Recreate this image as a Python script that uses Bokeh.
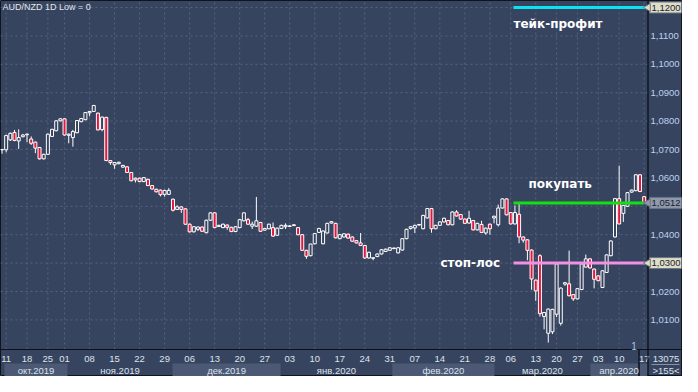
from bokeh.plotting import figure
from bokeh.models import Range1d
from bokeh.core.properties import value
from bokeh.embed import file_html
from bokeh.resources import INLINE

# ---------------- data (AUD/NZD daily candles) ----------------
opens = [1.0699, 1.0699, 1.0734, 1.0760, 1.0730, 1.0745, 1.0752, 1.0737, 1.0726, 1.0707,
         1.0667, 1.0683, 1.0746, 1.0766, 1.0801, 1.0808, 1.0750, 1.0742, 1.0759, 1.0798,
         1.0805, 1.0829, 1.0834, 1.0828, 1.0770, 1.0813, 1.0661, 1.0646, 1.0650, 1.0638,
         1.0639, 1.0619, 1.0593, 1.0599, 1.0587, 1.0595, 1.0573, 1.0560, 1.0557, 1.0542,
         1.0542, 1.0525, 1.0489, 1.0498, 1.0491, 1.0437, 1.0410, 1.0419, 1.0427, 1.0407,
         1.0451, 1.0477, 1.0429, 1.0425, 1.0434, 1.0426, 1.0411, 1.0425, 1.0449, 1.0453,
         1.0430, 1.0430, 1.0443, 1.0416, 1.0421, 1.0425, 1.0398, 1.0422, 1.0428, 1.0429,
         1.0432, 1.0425, 1.0400, 1.0345, 1.0326, 1.0368, 1.0408, 1.0368, 1.0406, 1.0441,
         1.0440, 1.0386, 1.0392, 1.0402, 1.0392, 1.0379, 1.0371, 1.0362, 1.0318, 1.0317,
         1.0323, 1.0332, 1.0341, 1.0345, 1.0351, 1.0336, 1.0346, 1.0386, 1.0422, 1.0424,
         1.0434, 1.0421, 1.0459, 1.0492, 1.0421, 1.0433, 1.0445, 1.0450, 1.0435, 1.0480,
         1.0471, 1.0455, 1.0441, 1.0450, 1.0417, 1.0436, 1.0406, 1.0437, 1.0459, 1.0435,
         1.0494, 1.0526, 1.0478, 1.0438, 1.0472, 1.0392, 1.0382, 1.0346, 1.0240, 1.0326,
         1.0112, 1.0053, 1.0058, 1.0120, 1.0088, 1.0226, 1.0227, 1.0189, 1.0174, 1.0207,
         1.0286, 1.0315, 1.0279, 1.0255, 1.0214, 1.0267, 1.0326, 1.0392, 1.0527, 1.0475,
         1.0500, 1.0550, 1.0555, 1.0611, 1.0534]
highs = [1.0701, 1.0752, 1.0760, 1.0769, 1.0771, 1.0755, 1.0756, 1.0746, 1.0728, 1.0709,
         1.0685, 1.0756, 1.0773, 1.0803, 1.0810, 1.0810, 1.0756, 1.0769, 1.0804, 1.0811,
         1.0832, 1.0836, 1.0857, 1.0830, 1.0816, 1.0815, 1.0663, 1.0656, 1.0657, 1.0646,
         1.0641, 1.0621, 1.0601, 1.0601, 1.0603, 1.0597, 1.0575, 1.0562, 1.0559, 1.0558,
         1.0564, 1.0527, 1.0504, 1.0500, 1.0493, 1.0439, 1.0430, 1.0429, 1.0429, 1.0453,
         1.0479, 1.0479, 1.0435, 1.0439, 1.0436, 1.0428, 1.0430, 1.0455, 1.0479, 1.0459,
         1.0446, 1.0533, 1.0445, 1.0424, 1.0439, 1.0443, 1.0425, 1.0435, 1.0440, 1.0433,
         1.0436, 1.0427, 1.0402, 1.0347, 1.0368, 1.0406, 1.0424, 1.0415, 1.0442, 1.0448,
         1.0442, 1.0402, 1.0405, 1.0404, 1.0394, 1.0381, 1.0406, 1.0364, 1.0340, 1.0321,
         1.0334, 1.0349, 1.0351, 1.0356, 1.0355, 1.0356, 1.0388, 1.0421, 1.0430, 1.0435,
         1.0438, 1.0470, 1.0494, 1.0494, 1.0435, 1.0447, 1.0460, 1.0452, 1.0482, 1.0486,
         1.0473, 1.0457, 1.0484, 1.0452, 1.0442, 1.0449, 1.0425, 1.0439, 1.0467, 1.0506,
         1.0528, 1.0528, 1.0480, 1.0503, 1.0513, 1.0394, 1.0384, 1.0348, 1.0242, 1.0331,
         1.0128, 1.0140, 1.0139, 1.0299, 1.0214, 1.0233, 1.0344, 1.0191, 1.0212, 1.0299,
         1.0330, 1.0317, 1.0281, 1.0257, 1.0275, 1.0331, 1.0380, 1.0529, 1.0643, 1.0505,
         1.0550, 1.0559, 1.0613, 1.0613, 1.0536]
lows = [1.0685, 1.0690, 1.0730, 1.0729, 1.0702, 1.0743, 1.0726, 1.0716, 1.0687, 1.0665,
        1.0665, 1.0681, 1.0744, 1.0764, 1.0799, 1.0749, 1.0722, 1.0710, 1.0757, 1.0796,
        1.0803, 1.0817, 1.0832, 1.0767, 1.0764, 1.0659, 1.0646, 1.0632, 1.0648, 1.0636,
        1.0617, 1.0588, 1.0584, 1.0585, 1.0585, 1.0571, 1.0559, 1.0549, 1.0535, 1.0534,
        1.0540, 1.0482, 1.0487, 1.0477, 1.0435, 1.0408, 1.0408, 1.0413, 1.0410, 1.0405,
        1.0449, 1.0423, 1.0427, 1.0423, 1.0417, 1.0409, 1.0409, 1.0423, 1.0447, 1.0435,
        1.0420, 1.0428, 1.0410, 1.0414, 1.0419, 1.0393, 1.0396, 1.0420, 1.0420, 1.0427,
        1.0431, 1.0398, 1.0343, 1.0315, 1.0324, 1.0366, 1.0406, 1.0366, 1.0404, 1.0439,
        1.0387, 1.0384, 1.0390, 1.0386, 1.0375, 1.0369, 1.0360, 1.0316, 1.0316, 1.0310,
        1.0321, 1.0330, 1.0339, 1.0343, 1.0349, 1.0334, 1.0344, 1.0384, 1.0418, 1.0406,
        1.0432, 1.0419, 1.0457, 1.0407, 1.0419, 1.0431, 1.0443, 1.0433, 1.0433, 1.0464,
        1.0453, 1.0438, 1.0439, 1.0415, 1.0415, 1.0406, 1.0400, 1.0400, 1.0440, 1.0429,
        1.0492, 1.0468, 1.0436, 1.0436, 1.0370, 1.0372, 1.0310, 1.0206, 1.0167, 1.0112,
        1.0067, 1.0020, 1.0050, 1.0110, 1.0080, 1.0220, 1.0183, 1.0167, 1.0172, 1.0205,
        1.0284, 1.0281, 1.0211, 1.0236, 1.0212, 1.0265, 1.0324, 1.0390, 1.0436, 1.0445,
        1.0498, 1.0548, 1.0553, 1.0550, 1.0510]
closes = [1.0700, 1.0749, 1.0757, 1.0732, 1.0742, 1.0751, 1.0754, 1.0722, 1.0705, 1.0667,
          1.0683, 1.0754, 1.0771, 1.0801, 1.0808, 1.0751, 1.0754, 1.0763, 1.0802, 1.0809,
          1.0830, 1.0834, 1.0855, 1.0769, 1.0814, 1.0661, 1.0654, 1.0654, 1.0655, 1.0644,
          1.0619, 1.0590, 1.0599, 1.0587, 1.0601, 1.0573, 1.0561, 1.0551, 1.0541, 1.0556,
          1.0556, 1.0486, 1.0498, 1.0489, 1.0437, 1.0410, 1.0428, 1.0427, 1.0412, 1.0451,
          1.0477, 1.0425, 1.0433, 1.0437, 1.0426, 1.0411, 1.0428, 1.0453, 1.0477, 1.0437,
          1.0437, 1.0449, 1.0412, 1.0422, 1.0437, 1.0395, 1.0423, 1.0433, 1.0433, 1.0431,
          1.0435, 1.0400, 1.0345, 1.0324, 1.0367, 1.0404, 1.0422, 1.0413, 1.0440, 1.0446,
          1.0389, 1.0400, 1.0403, 1.0388, 1.0377, 1.0371, 1.0362, 1.0318, 1.0338, 1.0319,
          1.0332, 1.0347, 1.0349, 1.0354, 1.0353, 1.0354, 1.0386, 1.0419, 1.0428, 1.0433,
          1.0436, 1.0468, 1.0492, 1.0421, 1.0433, 1.0445, 1.0458, 1.0435, 1.0480, 1.0466,
          1.0455, 1.0440, 1.0458, 1.0417, 1.0440, 1.0408, 1.0423, 1.0421, 1.0465, 1.0494,
          1.0526, 1.0470, 1.0438, 1.0478, 1.0392, 1.0381, 1.0345, 1.0244, 1.0202, 1.0122,
          1.0126, 1.0138, 1.0137, 1.0297, 1.0212, 1.0231, 1.0185, 1.0174, 1.0210, 1.0297,
          1.0315, 1.0283, 1.0243, 1.0238, 1.0273, 1.0329, 1.0378, 1.0527, 1.0438, 1.0503,
          1.0548, 1.0557, 1.0611, 1.0552, 1.0512]

day_labels = ["11", "18", "25", "01", "08", "15", "22", "29", "06", "13", "20", "27", "03", "10",
              "17", "24", "31", "07", "14", "21", "28", "06", "13", "20", "27", "03", "10", "17"]
day_index = [1, 6, 11, 15, 21, 27, 33, 39, 45, 51, 57, 63, 69, 75,
             81, 87, 93, 99, 105, 111, 117, 122, 128, 133, 138, 143, 148, 154]
month_labels = ["окт.2019", "ноя.2019", "дек.2019", "янв.2020", "фев.2020", "мар.2020", "апр.2020"]
month_first = [0.6, 15.7, 40.9, 66.8, 93.6, 118.1, 141.1]
month_last = [15.7, 40.9, 66.8, 93.6, 118.1, 141.1, 154.8]

y_ticks = [1.01, 1.02, 1.04, 1.06, 1.07, 1.08, 1.09, 1.10, 1.11]
y_tick_labels = ["1,0100", "1,0200", "1,0400", "1,0600", "1,0700", "1,0800", "1,0900", "1,1000", "1,1100"]
grid_levels = [1.01, 1.02, 1.03, 1.04, 1.05, 1.06, 1.07, 1.08, 1.09, 1.10, 1.11, 1.12]

take_profit = 1.1200
buy_level = 1.0512
stop_loss = 1.0300
level_values = [take_profit, buy_level, stop_loss]
level_labels = ["1,1200", "1,0512", "1,0300"]
bars_total = "13075"
bars_visible = ">155<"

# ---------------- layout constants ----------------
W, H = 682, 376
AXIS_X = 647            # pixel column of the price axis line
PX_PER_BAR = 4.17
PX_PER_UNIT = 2840.0
Y_TOP = 1.12 + 7 / PX_PER_UNIT
X0 = -1.5 / PX_PER_BAR
X1 = X0 + W / PX_PER_BAR
XA = X0 + AXIS_X / PX_PER_BAR
PLOT_BOTTOM = Y_TOP - 349 / PX_PER_UNIT

BG = "#37445f"
GRID = "#56647f"
RED = "#e5163e"
FONT = "Liberation Sans"

p = figure(width=W, height=H, output_backend="svg", toolbar_location=None,
           x_range=Range1d(X0, X1), y_range=Range1d(Y_TOP - H / PX_PER_UNIT, Y_TOP),
           x_axis_location=None, y_axis_location=None, tools="")
p.extra_y_ranges = {"px": Range1d(start=H, end=0)}
p.extra_x_ranges = {"px": Range1d(start=0, end=W)}
p.min_border = 0
p.background_fill_color = BG
p.border_fill_color = BG
p.outline_line_color = "#10141c"
p.outline_line_width = 1
p.xgrid.visible = False
p.ygrid.visible = False

# dashed grid
n = len(grid_levels)
p.segment(x0=[X0] * n, x1=[XA] * n, y0=grid_levels, y1=grid_levels,
          line_color=GRID, line_dash="2 3", line_width=1)
p.segment(x0=day_index, x1=day_index, y0=[PLOT_BOTTOM] * len(day_index), y1=[Y_TOP] * len(day_index),
          line_color=GRID, line_dash="2 3", line_width=1)

# time axis area: month bands, separators, labels
p.quad(left=month_first[0::2], right=month_last[0::2], bottom=[H] * 4, top=[363] * 4,
       y_range_name="px", fill_color="#4b5975", line_color=None)
p.segment(x0=[0], x1=[W], y0=[349], y1=[349], x_range_name="px", y_range_name="px",
          line_color="#0c1018", line_width=1)
p.segment(x0=[638.5], x1=[638.5], y0=[349], y1=[H], x_range_name="px", y_range_name="px",
          line_color="#1a2030", line_width=2)
p.text(x=day_index, y=[358] * len(day_index), text=day_labels, y_range_name="px",
       text_font=value(FONT), text_font_size="9.5px", text_color="#dce2ec",
       text_align="center", text_baseline="middle")
p.text(x=[(a + b) / 2 for a, b in zip(month_first, month_last)], y=[369.5] * len(month_labels),
       text=month_labels, y_range_name="px", text_font=value(FONT), text_font_size="9.5px",
       text_color="#dce2ec", text_align="center", text_baseline="middle")

# candles
idx = list(range(len(opens)))
tops = [max(o, c) for o, c in zip(opens, closes)]
bots = [min(o, c) for o, c in zip(opens, closes)]
fills = [BG if c >= o else RED for o, c in zip(opens, closes)]
p.segment(x0=idx, x1=idx, y0=lows, y1=highs, line_color="white", line_width=1)
p.vbar(x=idx, width=0.72, top=tops, bottom=bots, fill_color=fills, line_color="white", line_width=1)

# level lines
start_bar = (521 - 9.5) / PX_PER_BAR
p.segment(x0=[start_bar], x1=[XA], y0=[take_profit], y1=[take_profit], line_color="#0ae4f2", line_width=3)
p.segment(x0=[start_bar], x1=[len(opens) - 1], y0=[buy_level], y1=[buy_level], line_color="#12e012", line_width=3)
p.segment(x0=[start_bar], x1=[XA], y0=[stop_loss], y1=[stop_loss], line_color="#f290e4", line_width=3)

bold = dict(text_font=value("DejaVu Sans"), text_font_size="12px", text_font_style="bold",
            text_color="white", text_baseline="middle", text_align="left")
p.text(x=[start_bar], y=[take_profit - 16.5 / PX_PER_UNIT], text=["тейк-профит"], **bold)
p.text(x=[(536 - 9.5) / PX_PER_BAR], y=[buy_level + 19 / PX_PER_UNIT], text=["покупать"], **bold)
p.text(x=[(448 - 9.5) / PX_PER_BAR], y=[stop_loss], text=["стоп-лос"], **bold)

p.text(x=[2], y=[6.5], x_range_name="px", y_range_name="px", text=["AUD/NZD 1D Low = 0"],
       text_font=value(FONT), text_font_size="9px", text_color="#e2e6ee",
       text_baseline="middle", text_align="left")
p.text(x=[633.5], y=[345], x_range_name="px", y_range_name="px", text=["1"],
       text_font=value(FONT), text_font_size="10px", text_color="#a9c3e6",
       text_baseline="middle", text_align="center")

# price axis (right panel)
p.segment(x0=[AXIS_X + 0.5], x1=[AXIS_X + 0.5], y0=[0], y1=[H], x_range_name="px", y_range_name="px",
          line_color="#000000", line_width=1)
p.text(x=[AXIS_X + 3] * len(y_ticks), y=y_ticks, text=y_tick_labels, x_range_name="px",
       text_font=value(FONT), text_font_size="9.5px", text_color="#bcd2f0",
       text_baseline="middle", text_align="left")

# price markers on the axis
marker_bg = ["#dedec6", "#8f99ab", "#dedec6"]
p.rect(x=[AXIS_X + 18] * 3, y=level_values, width=[32] * 3, height=[11] * 3, height_units="screen",
       x_range_name="px", fill_color=marker_bg, line_color="#6a7385", line_width=1)
p.scatter(x=[AXIS_X + 0.5] * 3, y=level_values, marker="triangle", size=8, angle=1.5708,
          x_range_name="px", fill_color=marker_bg, line_color="#6a7385")
p.text(x=[AXIS_X + 4] * 3, y=level_values, text=level_labels, x_range_name="px",
       text_font=value(FONT), text_font_size="9.5px", text_color="#1c2230",
       text_baseline="middle", text_align="left")

# bar counter box
p.segment(x0=[AXIS_X + 4], x1=[W - 3], y0=[364], y1=[364], x_range_name="px", y_range_name="px",
          line_color="#8792a6", line_width=1)
p.text(x=[AXIS_X + 18.5] * 2, y=[358, 370], text=[bars_total, bars_visible],
       x_range_name="px", y_range_name="px", text_font=value(FONT), text_font_size="9.5px",
       text_color="#dce2ec", text_align="center", text_baseline="middle")

html = file_html(p, INLINE)
html = html.replace("<body>", '<body style="background-color:#c3ccd8;">', 1)
open("out.html", "w").write(html)
